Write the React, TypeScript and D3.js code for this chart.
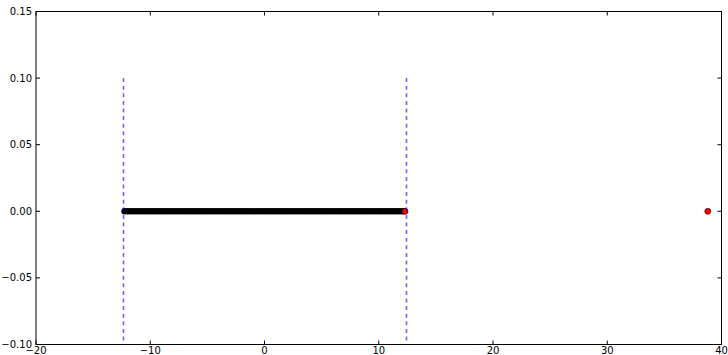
import React from "react";
import * as d3 from "d3";

const W = 728;
const H = 355;

const xTicks = [-20, -10, 0, 10, 20, 30, 40];
const yTicks = [-0.1, -0.05, 0.0, 0.05, 0.1, 0.15];

// dense black points on y = 0
const blackX = [
  -12.25, -12.0, -11.75, -11.5, -11.25, -11.0, -10.75, -10.5, -10.25, -10.0,
  -9.75, -9.5, -9.25, -9.0, -8.75, -8.5, -8.25, -8.0, -7.75, -7.5,
  -7.25, -7.0, -6.75, -6.5, -6.25, -6.0, -5.75, -5.5, -5.25, -5.0,
  -4.75, -4.5, -4.25, -4.0, -3.75, -3.5, -3.25, -3.0, -2.75, -2.5,
  -2.25, -2.0, -1.75, -1.5, -1.25, -1.0, -0.75, -0.5, -0.25, 0.0,
  0.25, 0.5, 0.75, 1.0, 1.25, 1.5, 1.75, 2.0, 2.25, 2.5,
  2.75, 3.0, 3.25, 3.5, 3.75, 4.0, 4.25, 4.5, 4.75, 5.0,
  5.25, 5.5, 5.75, 6.0, 6.25, 6.5, 6.75, 7.0, 7.25, 7.5,
  7.75, 8.0, 8.25, 8.5, 8.75, 9.0, 9.25, 9.5, 9.75, 10.0,
  10.25, 10.5, 10.75, 11.0, 11.25, 11.5, 11.75, 12.0, 12.2,
];
const blackY = blackX.map(() => 0);

const redX = [12.3, 38.8];
const redY = [0, 0];

const boundX = [-12.35, 12.35];
const boundY0 = -0.1;
const boundY1 = 0.1;

const fmtY = (v: number) => {
  const s = Math.abs(v).toFixed(2);
  return v < -1e-9 ? "\u2212" + s : s;
};
const fmtX = (v: number) => (v < 0 ? "\u2212" + Math.abs(v) : String(v));

export default function App() {
  const left = 36;
  const right = 721.5;
  const top = 11.5;
  const bottom = 344.5;
  const x = d3.scaleLinear().domain([-20, 40]).range([left, right]);
  const y = d3.scaleLinear().domain([-0.1, 0.15]).range([bottom, top]);
  const font = "DejaVu Sans";
  const tl = 4;

  return (
    <svg
      width={W}
      height={H}
      style={{ position: "absolute", left: 0, top: 0, display: "block", background: "#fff" }}
      fontFamily={font}
      fontSize={10}
    >
      <rect x={0} y={0} width={W} height={H} fill="#fff" />
      {blackX.map((v, i) => (
        <circle key={"b" + i} cx={x(v)} cy={y(blackY[i])} r={3.2} fill="#000" />
      ))}
      {redX.map((v, i) => (
        <circle key={"r" + i} cx={x(v)} cy={y(redY[i])} r={3} fill="#ff0000" stroke="#000" strokeWidth={0.6} />
      ))}
      {boundX.map((v, i) => (
        <line
          key={"d" + i}
          x1={Math.round(x(v)) + 0.5}
          x2={Math.round(x(v)) + 0.5}
          y1={y(boundY1)}
          y2={y(boundY0)}
          stroke="#0000ff"
          strokeOpacity={0.6}
          strokeWidth={1.6}
          strokeDasharray="4,3.6"
        />
      ))}
      <rect x={left} y={top} width={right - left} height={bottom - top} fill="none" stroke="#000" strokeWidth={1} />
      {xTicks.map((t) => (
        <g key={"xt" + t}>
          <line x1={x(t)} x2={x(t)} y1={bottom} y2={bottom - tl} stroke="#000" strokeWidth={1} />
          <line x1={x(t)} x2={x(t)} y1={top} y2={top + tl} stroke="#000" strokeWidth={1} />
          <text x={x(t)} y={354} textAnchor="middle" fill="#000">
            {fmtX(t)}
          </text>
        </g>
      ))}
      {yTicks.map((t) => (
        <g key={"yt" + t}>
          <line x1={left} x2={left + tl} y1={y(t)} y2={y(t)} stroke="#000" strokeWidth={1} />
          <line x1={right} x2={right - tl} y1={y(t)} y2={y(t)} stroke="#000" strokeWidth={1} />
          <text x={left - 4} y={y(t)} dy="0.35em" textAnchor="end" fill="#000">
            {fmtY(t)}
          </text>
        </g>
      ))}
    </svg>
  );
}
